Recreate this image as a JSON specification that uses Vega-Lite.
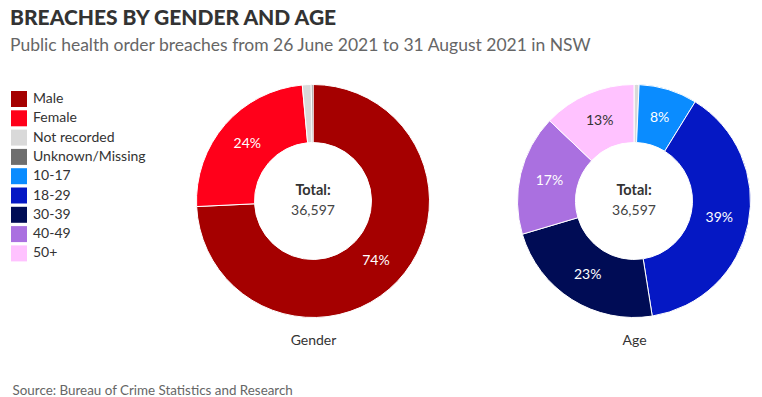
{
  "$schema": "https://vega.github.io/schema/vega-lite/v6.json",
  "width": 762,
  "height": 397,
  "autosize": {"type": "fit", "contains": "padding"},
  "padding": {"top": 7, "left": 0, "right": 0, "bottom": 0},
  "background": "white",
  "title": {
    "text": "BREACHES BY GENDER AND AGE",
    "subtitle": "Public health order breaches from 26 June 2021 to 31 August 2021 in NSW",
    "anchor": "start",
    "dx": 10,
    "font": "Lato",
    "fontSize": 21,
    "fontWeight": 900,
    "color": "#333333",
    "subtitleFont": "Lato",
    "subtitleFontSize": 17.5,
    "subtitleColor": "#666666",
    "subtitlePadding": 8,
    "offset": 18
  },
  "config": {"view": {"stroke": null}, "font": "Lato"},
  "data": {
    "values": [
      {"chart": "Gender", "category": "Male", "ord": 1, "count": 27170},
      {"chart": "Gender", "category": "Female", "ord": 2, "count": 8890},
      {"chart": "Gender", "category": "Not recorded", "ord": 3, "count": 450},
      {"chart": "Gender", "category": "Unknown/Missing", "ord": 4, "count": 87},
      {"chart": "Age", "category": "Not recorded", "ord": 0, "count": 256},
      {"chart": "Age", "category": "10-17", "ord": 1, "count": 2964},
      {"chart": "Age", "category": "18-29", "ord": 2, "count": 14163},
      {"chart": "Age", "category": "30-39", "ord": 3, "count": 8381},
      {"chart": "Age", "category": "40-49", "ord": 4, "count": 6112},
      {"chart": "Age", "category": "50+", "ord": 5, "count": 4721}
    ]
  },
  "transform": [
    {"joinaggregate": [{"op": "sum", "field": "count", "as": "total"}], "groupby": ["chart"]},
    {"calculate": "datum.count / datum.total >= 0.05 ? format(datum.count / datum.total, '.0%') : ''", "as": "label"}
  ],
  "encoding": {
    "x": {
      "field": "chart",
      "type": "nominal",
      "sort": ["Gender", "Age"],
      "scale": {"type": "point", "domain": ["Gender", "Age"], "range": [313, 634], "padding": 0},
      "axis": {
        "title": "Source: Bureau of Crime Statistics and Research",
        "labelAngle": 0,
        "domain": false,
        "ticks": false,
        "grid": false,
        "labelFont": "Lato",
        "labelFontSize": 14,
        "labelColor": "#333333",
        "labelPadding": 3,
        "titleFont": "Lato",
        "titleFontSize": 13.4,
        "titleFontWeight": "normal",
        "titleColor": "#666666",
        "titleX": 12,
        "titleAlign": "left",
        "titleAnchor": "start",
        "titlePadding": 36
      }
    }
  },
  "layer": [
    {
      "transform": [{"filter": "datum.chart == 'Gender'"}],
      "mark": {"type": "arc", "outerRadius": 116.5, "innerRadius": 58.5, "stroke": "white", "strokeWidth": 1},
      "encoding": {
        "theta": {"field": "count", "type": "quantitative", "stack": true},
        "order": {"field": "ord", "type": "quantitative"},
        "color": {
          "field": "category",
          "type": "nominal",
          "scale": {
            "domain": ["Male", "Female", "Not recorded", "Unknown/Missing", "10-17", "18-29", "30-39", "40-49", "50+"],
            "range": ["#a50000", "#ff001a", "#d9d9d9", "#6e6e6e", "#0a8cff", "#0518c4", "#000c55", "#aa70e0", "#ffc2ff"]
          },
          "legend": {
            "title": null,
            "orient": "none",
            "legendX": 11,
            "legendY": 19,
            "symbolType": "square",
            "symbolSize": 256,
            "symbolStrokeWidth": 0,
            "symbolOpacity": 1,
            "labelFont": "Lato",
            "labelFontSize": 14,
            "labelColor": "#333333",
            "labelOffset": 6,
            "rowPadding": 3.3
          }
        }
      }
    },
    {
      "transform": [{"filter": "datum.chart == 'Gender'"}],
      "mark": {"type": "text", "radius": 87, "fontSize": 14, "font": "Lato"},
      "encoding": {
        "theta": {"field": "count", "type": "quantitative", "stack": true},
        "order": {"field": "ord", "type": "quantitative"},
        "text": {"field": "label"},
        "color": {"value": "white"}
      }
    },
    {
      "transform": [{"filter": "datum.chart == 'Age'"}],
      "mark": {"type": "arc", "outerRadius": 116.5, "innerRadius": 58.5, "stroke": "white", "strokeWidth": 1},
      "encoding": {
        "theta": {"field": "count", "type": "quantitative", "stack": true},
        "order": {"field": "ord", "type": "quantitative"},
        "color": {"field": "category", "type": "nominal"}
      }
    },
    {
      "transform": [{"filter": "datum.chart == 'Age'"}],
      "mark": {"type": "text", "radius": 87, "fontSize": 14, "font": "Lato"},
      "encoding": {
        "theta": {"field": "count", "type": "quantitative", "stack": true},
        "order": {"field": "ord", "type": "quantitative"},
        "text": {"field": "label"},
        "color": {"condition": {"test": "datum.category == '50+'", "value": "#333333"}, "value": "white"}
      }
    },
    {
      "transform": [{"aggregate": [{"op": "sum", "field": "count", "as": "sum"}], "groupby": ["chart"]}],
      "mark": {"type": "text", "dy": -10, "fontSize": 14.5, "fontWeight": "bold", "font": "Lato", "color": "#333333"},
      "encoding": {"text": {"value": "Total:"}}
    },
    {
      "transform": [{"aggregate": [{"op": "sum", "field": "count", "as": "sum"}], "groupby": ["chart"]}],
      "mark": {"type": "text", "dy": 10, "fontSize": 14, "font": "Lato", "color": "#444444"},
      "encoding": {"text": {"field": "sum", "type": "quantitative", "format": ","}}
    }
  ]
}
